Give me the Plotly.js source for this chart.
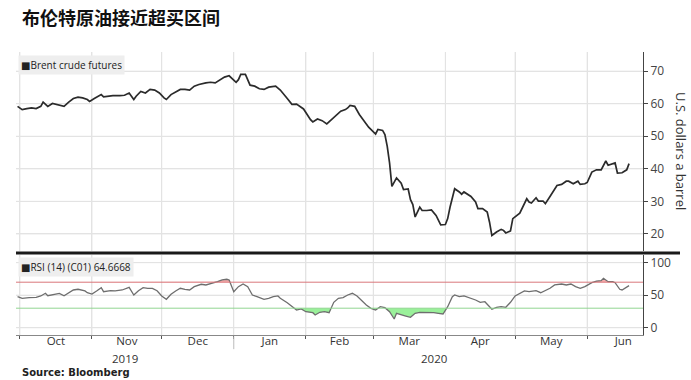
<!DOCTYPE html>
<html>
<head>
<meta charset="utf-8">
<script src="https://cdn.plot.ly/plotly-3.0.1.min.js"></script>
<style>html,body{margin:0;padding:0;background:#fff;}#chart{width:691px;height:380px;}</style>
</head>
<body>
<div id="chart"></div>
<script>
// ---- Data ----
const chartTitle = '布伦特原油接近超买区间';
const priceName = 'Brent crude futures';
const rsiName = 'RSI (14) (C01) 64.6668';
const yAxisTitle = 'U.S. dollars a barrel';
const sourceText = 'Source: Bloomberg';
const yearLabels = ['2019', '2020'];
const yearLabelDates = ['2019-11-15', '2020-03-27'];
const rsiUpper = 70;
const rsiLower = 30;
const monthStarts = ['2019-10-01','2019-11-01','2019-12-01','2020-01-01','2020-02-01','2020-03-01','2020-04-01','2020-05-01','2020-06-01'];
const priceGridLevels = [20, 30, 40, 50, 60, 70];
const rsiGridLevels = [0, 50, 100];

const priceDates = [
 '2019-09-30','2019-10-02','2019-10-04','2019-10-06','2019-10-08','2019-10-10','2019-10-11','2019-10-13','2019-10-15','2019-10-17',
 '2019-10-20','2019-10-22','2019-10-24','2019-10-26','2019-10-28','2019-10-30','2019-10-31','2019-11-02','2019-11-05','2019-11-06',
 '2019-11-08','2019-11-10','2019-11-13','2019-11-15','2019-11-17','2019-11-19','2019-11-20','2019-11-22','2019-11-24','2019-11-26',
 '2019-11-28','2019-11-30','2019-12-02','2019-12-03','2019-12-05','2019-12-07','2019-12-09','2019-12-11','2019-12-13','2019-12-15',
 '2019-12-17','2019-12-20','2019-12-22','2019-12-24','2019-12-26','2019-12-28','2019-12-30','2019-12-31','2020-01-02','2020-01-03',
 '2020-01-04','2020-01-06','2020-01-08','2020-01-10','2020-01-12','2020-01-14','2020-01-16','2020-01-19','2020-01-21','2020-01-24',
 '2020-01-26','2020-01-28','2020-01-31','2020-02-03','2020-02-04','2020-02-06','2020-02-08','2020-02-10','2020-02-12','2020-02-14',
 '2020-02-16','2020-02-18','2020-02-19','2020-02-20','2020-02-22','2020-02-24','2020-02-26','2020-02-28','2020-03-02','2020-03-03',
 '2020-03-05','2020-03-06','2020-03-07','2020-03-08','2020-03-09','2020-03-11','2020-03-13','2020-03-14','2020-03-16','2020-03-17',
 '2020-03-18','2020-03-19','2020-03-21','2020-03-22','2020-03-24','2020-03-26','2020-03-28','2020-03-30','2020-04-01','2020-04-02',
 '2020-04-03','2020-04-05','2020-04-07','2020-04-08','2020-04-09','2020-04-11','2020-04-12','2020-04-14','2020-04-15','2020-04-17',
 '2020-04-19','2020-04-20','2020-04-21','2020-04-23','2020-04-25','2020-04-26','2020-04-27','2020-04-29','2020-04-30','2020-05-03',
 '2020-05-04','2020-05-06','2020-05-07','2020-05-08','2020-05-10','2020-05-11','2020-05-13','2020-05-14','2020-05-16','2020-05-19',
 '2020-05-21','2020-05-23','2020-05-24','2020-05-26','2020-05-28','2020-05-29','2020-05-31','2020-06-01','2020-06-03','2020-06-05',
 '2020-06-07','2020-06-09','2020-06-10','2020-06-13','2020-06-14','2020-06-16','2020-06-18','2020-06-19'
];
const priceValues = [
 59.2,58.2,58.5,58.7,58.5,59.2,60.5,59.2,60.1,59.8,
 59.2,60.5,61.6,62.0,61.8,61.3,60.7,61.6,62.8,62.1,
 62.3,62.5,62.5,62.6,63.3,61.3,62.3,63.8,63.3,64.4,
 64.2,63.3,61.8,61.3,62.8,63.6,64.4,64.4,64.2,65.4,
 65.9,66.4,66.6,66.4,67.4,68.2,68.6,67.9,66.6,67.4,
 69.0,69.0,65.7,65.4,64.6,64.4,65.1,65.4,64.2,61.6,
 59.8,59.9,58.4,55.1,54.4,55.3,54.8,53.8,55.1,56.7,
 57.7,58.2,58.7,59.5,59.2,56.7,54.8,52.8,50.7,52.1,
 51.8,50.5,46.9,41.8,34.6,37.2,35.6,33.6,33.8,30.5,
 29.0,25.2,28.2,27.2,27.2,27.4,25.7,22.8,22.9,24.7,
 28.2,33.9,32.9,32.2,32.9,31.8,31.5,29.8,27.8,27.8,
 26.7,23.6,19.5,20.6,21.4,21.1,20.3,20.9,24.7,26.4,
 27.8,30.8,29.8,29.5,31.1,30.1,30.1,29.3,31.5,34.9,
 35.2,36.2,36.2,35.4,36.2,35.2,35.4,35.8,39.0,39.7,
 39.7,42.4,41.1,41.8,38.7,38.8,39.7,41.6
];

const rsiDates = [
 '2019-09-30','2019-10-02','2019-10-05','2019-10-08','2019-10-10','2019-10-12','2019-10-13','2019-10-16','2019-10-18','2019-10-20',
 '2019-10-22','2019-10-24','2019-10-26','2019-10-29','2019-10-30','2019-11-01','2019-11-03','2019-11-05','2019-11-06','2019-11-09',
 '2019-11-11','2019-11-14','2019-11-17','2019-11-19','2019-11-21','2019-11-23','2019-11-25','2019-11-27','2019-11-29','2019-12-01',
 '2019-12-03','2019-12-05','2019-12-07','2019-12-09','2019-12-11','2019-12-13','2019-12-15','2019-12-18','2019-12-20','2019-12-23',
 '2019-12-25','2019-12-27','2019-12-29','2019-12-30','2019-12-31','2020-01-01','2020-01-03','2020-01-05','2020-01-07','2020-01-09',
 '2020-01-11','2020-01-14','2020-01-16','2020-01-18','2020-01-20','2020-01-21','2020-01-24','2020-01-26','2020-01-28','2020-01-30',
 '2020-02-01','2020-02-04','2020-02-05','2020-02-07','2020-02-09','2020-02-11','2020-02-12','2020-02-13','2020-02-15','2020-02-17',
 '2020-02-19','2020-02-21','2020-02-23','2020-02-25','2020-02-27','2020-02-29','2020-03-02','2020-03-04','2020-03-06','2020-03-08',
 '2020-03-10','2020-03-11','2020-03-13','2020-03-15','2020-03-17','2020-03-19','2020-03-21','2020-03-24','2020-03-27','2020-03-29',
 '2020-03-31','2020-04-02','2020-04-04','2020-04-05','2020-04-07','2020-04-09','2020-04-12','2020-04-14','2020-04-16','2020-04-18',
 '2020-04-19','2020-04-21','2020-04-23','2020-04-25','2020-04-27','2020-04-29','2020-05-01','2020-05-03','2020-05-05','2020-05-07',
 '2020-05-10','2020-05-12','2020-05-14','2020-05-16','2020-05-18','2020-05-21','2020-05-23','2020-05-25','2020-05-27','2020-05-29',
 '2020-05-31','2020-06-03','2020-06-05','2020-06-07','2020-06-08','2020-06-10','2020-06-12','2020-06-13','2020-06-15','2020-06-16',
 '2020-06-19'
];
const rsiValues = [
 47.7,45.2,46.2,46.8,48.8,52.9,49.2,51.4,52.9,49.2,
 53.8,58.0,59.1,56.5,53.8,51.8,56.5,61.5,55.4,56.9,
 56.5,58.0,62.1,50.3,56.9,61.5,60.6,60.6,56.9,48.8,
 43.7,51.4,56.5,60.6,59.1,58.0,63.1,66.8,65.7,68.3,
 70.8,73.4,74.5,73.4,63.1,55.4,63.1,67.2,63.1,50.3,
 47.7,43.7,45.2,47.7,48.8,45.2,38.5,32.3,27.2,28.8,
 24.6,23.1,19.5,23.7,24.6,23.1,30.0,39.0,45.2,46.2,
 50.3,52.9,48.8,41.5,34.9,29.8,27.2,32.3,30.8,24.6,
 13.4,22.2,19.5,18.0,16.0,22.2,23.7,23.7,23.1,22.2,
 21.1,32.3,47.7,50.3,47.7,48.8,45.2,42.6,39.1,40.0,
 36.0,28.3,31.4,32.3,31.4,39.1,48.8,52.9,56.5,55.4,
 56.9,53.8,56.9,60.6,65.7,67.2,65.7,67.2,63.1,60.6,
 63.1,69.2,71.8,72.3,76.0,70.8,70.8,69.2,59.1,58.0,
 64.7
];

// ---- helpers: build fill boundaries (clip at threshold, adding crossing points) ----
function clipAt(dates, vals, level, below) {
  const xs = [], ys = [];
  for (let i = 0; i < vals.length; i++) {
    if (i > 0) {
      const a = vals[i-1], b = vals[i];
      if ((a - level) * (b - level) < 0) {
        const ta = new Date(dates[i-1]).getTime(), tb = new Date(dates[i]).getTime();
        const t = ta + (tb - ta) * (level - a) / (b - a);
        xs.push(new Date(t).toISOString());
        ys.push(level);
      }
    }
    xs.push(dates[i]);
    ys.push(below ? Math.min(vals[i], level) : Math.max(vals[i], level));
  }
  return {x: xs, y: ys};
}
const greenClip = clipAt(rsiDates, rsiValues, rsiLower, true);
const redClip = clipAt(rsiDates, rsiValues, rsiUpper, false);

const traces = [
  {x: priceDates, y: priceValues, xaxis: 'x2', yaxis: 'y', type: 'scatter', mode: 'lines',
   line: {color: '#2b2b2b', width: 1.7}, hoverinfo: 'skip'},
  // green fill under 30
  {x: greenClip.x, y: greenClip.x.map(() => rsiLower), xaxis: 'x', yaxis: 'y2', mode: 'lines',
   line: {width: 0}, hoverinfo: 'skip'},
  {x: greenClip.x, y: greenClip.y, xaxis: 'x', yaxis: 'y2', mode: 'lines', fill: 'tonexty',
   fillcolor: 'rgba(120,235,120,0.75)', line: {width: 0}, hoverinfo: 'skip'},
  // red fill above 70
  {x: redClip.x, y: redClip.x.map(() => rsiUpper), xaxis: 'x', yaxis: 'y2', mode: 'lines',
   line: {width: 0}, hoverinfo: 'skip'},
  {x: redClip.x, y: redClip.y, xaxis: 'x', yaxis: 'y2', mode: 'lines', fill: 'tonexty',
   fillcolor: 'rgba(240,120,120,0.6)', line: {width: 0}, hoverinfo: 'skip'},
  {x: rsiDates, y: rsiValues, xaxis: 'x', yaxis: 'y2', type: 'scatter', mode: 'lines',
   line: {color: '#6e6e6e', width: 1.3}, hoverinfo: 'skip'}
];

const gridC = '#e3e3e3';
const tickFont = {family: 'Open Sans, DejaVu Sans, sans-serif', size: 12, color: '#444'};
const xRange = ['2019-09-29 08:00', '2020-06-25'];
const mainBottom = (335-251)/283;
const rsiTop = (335-255)/283;

// gridlines as background shapes at tick positions
const gridShapes = [];
priceGridLevels.forEach(v => gridShapes.push({type: 'line', layer: 'below', xref: 'paper', yref: 'y', x0: 0, x1: 1, y0: v, y1: v,
  line: {color: gridC, width: 1}}));
rsiGridLevels.forEach(v => gridShapes.push({type: 'line', layer: 'below', xref: 'paper', yref: 'y2', x0: 0, x1: 1, y0: v, y1: v,
  line: {color: gridC, width: 1}}));
monthStarts.forEach(d => {
  gridShapes.push({type: 'line', layer: 'below', xref: 'x', yref: 'paper', x0: d, x1: d, y0: mainBottom, y1: 1, line: {color: gridC, width: 1}});
  gridShapes.push({type: 'line', layer: 'below', xref: 'x', yref: 'paper', x0: d, x1: d, y0: 0, y1: rsiTop, line: {color: gridC, width: 1}});
});

const layout = {
  width: 691, height: 380,
  margin: {l: 16, r: 48, t: 52, b: 45},
  paper_bgcolor: '#ffffff', plot_bgcolor: '#ffffff',
  showlegend: false,
  title: {text: chartTitle, x: 22/691, xanchor: 'left', xref: 'container', y: 1 - 19/380, yanchor: 'middle', yref: 'container',
          font: {family: 'Noto Sans CJK SC, sans-serif', size: 18, weight: 'bold', color: '#111'}},
  xaxis: {type: 'date', anchor: 'y2', domain: [0, 1], range: xRange,
          tick0: '2019-10-01', dtick: 'M1', ticklabelmode: 'period', tickformat: '%b',
          ticks: 'outside', ticklen: 3, tickcolor: '#555', ticklabelstandoff: -8, showgrid: true, gridcolor: gridC, gridwidth: 1,
          showline: true, linecolor: '#888', linewidth: 1, zeroline: false,
          tickfont: {family: 'Open Sans, DejaVu Sans, sans-serif', size: 11.5, color: '#333'}},
  xaxis2: {type: 'date', anchor: 'y', domain: [0, 1], range: xRange, matches: 'x',
          tick0: '2019-10-01', dtick: 'M1', ticklabelmode: 'period', showticklabels: false, ticks: '',
          showgrid: true, gridcolor: gridC, gridwidth: 1, showline: false, zeroline: false},
  yaxis: {domain: [mainBottom, 1], side: 'right', anchor: 'x2', range: [14.75, 75.9], tick0: 0, dtick: 10,
          ticks: 'outside', ticklen: 4, tickcolor: '#444', showline: true, linecolor: '#444', linewidth: 1,
          showgrid: true, gridcolor: gridC, gridwidth: 1, zeroline: false, tickfont: tickFont},
  yaxis2: {domain: [0, rsiTop], side: 'right', anchor: 'x', range: [-11.2, 111.8], tickvals: [0, 50, 100],
          ticks: 'outside', ticklen: 4, tickcolor: '#444', showline: true, linecolor: '#444', linewidth: 1,
          showgrid: true, gridcolor: gridC, gridwidth: 1, zeroline: false, tickfont: tickFont},
  shapes: gridShapes.concat([
    {type: 'line', xref: 'paper', yref: 'y2', x0: 0, x1: 1, y0: rsiUpper, y1: rsiUpper, line: {color: '#d9787c', width: 1}},
    {type: 'line', xref: 'paper', yref: 'y2', x0: 0, x1: 1, y0: rsiLower, y1: rsiLower, line: {color: '#92d692', width: 1}},
    {type: 'line', xref: 'paper', yref: 'paper', x0: 0, x1: (680-16)/627, y0: (335-253)/283, y1: (335-253)/283,
     line: {color: '#1a1a1a', width: 3}},
    {type: 'line', xref: 'x', yref: 'paper', x0: '2020-01-01', x1: '2020-01-01', y0: -0.005, y1: -0.05,
     line: {color: '#bbbbbb', width: 1}}
  ]),
  annotations: [
    {text: '■' + priceName, xref: 'paper', yref: 'paper', x: 0.003, y: (335-64.5)/283, xanchor: 'left', yanchor: 'middle',
     showarrow: false, bgcolor: '#eeeeee', borderpad: 2, font: {family: 'Open Sans, DejaVu Sans, sans-serif', size: 10, color: '#222'}},
    {text: '■' + rsiName, xref: 'paper', yref: 'paper', x: 0.003, y: (335-266.5)/283, xanchor: 'left', yanchor: 'middle',
     showarrow: false, bgcolor: '#eeeeee', borderpad: 2, font: {family: 'Open Sans, DejaVu Sans, sans-serif', size: 10, color: '#222'}},
    {text: yAxisTitle, xref: 'paper', yref: 'paper', x: (681-16)/627, y: (335-151)/283, xanchor: 'center', yanchor: 'middle',
     textangle: 90, showarrow: false, font: {family: 'Open Sans, DejaVu Sans, sans-serif', size: 13, color: '#333'}},
    {text: yearLabels[0], xref: 'x', yref: 'paper', x: yearLabelDates[0], y: (335-358)/283, xanchor: 'center', yanchor: 'middle',
     showarrow: false, font: {family: 'Open Sans, DejaVu Sans, sans-serif', size: 11.5, color: '#333'}},
    {text: yearLabels[1], xref: 'x', yref: 'paper', x: yearLabelDates[1], y: (335-358)/283, xanchor: 'center', yanchor: 'middle',
     showarrow: false, font: {family: 'Open Sans, DejaVu Sans, sans-serif', size: 11.5, color: '#333'}},
    {text: '<b>' + sourceText + '</b>', xref: 'paper', yref: 'paper', x: (20-16)/627, y: (335-372)/283, xanchor: 'left', yanchor: 'middle',
     showarrow: false, font: {family: 'DejaVu Sans, sans-serif', size: 10, color: '#222'}}
  ]
};

Plotly.newPlot('chart', traces, layout, {displayModeBar: false});
</script>
</body>
</html>
